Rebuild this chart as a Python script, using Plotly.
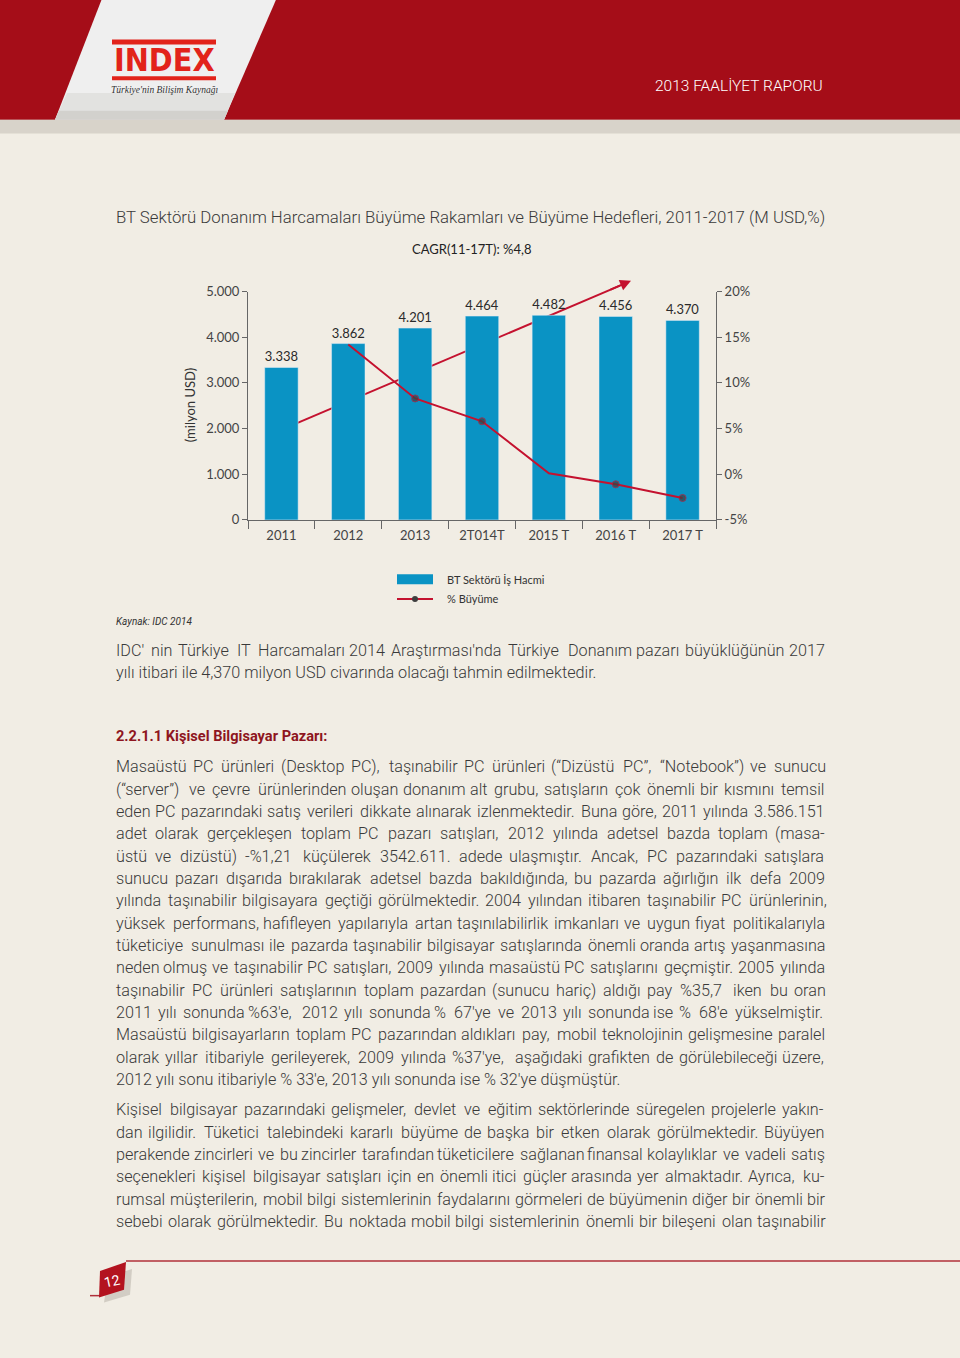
import plotly.graph_objects as go

# ---- data ----
years = ["2011", "2012", "2013", "2T014T", "2015 T", "2016 T", "2017 T"]
volume = [3338, 3862, 4201, 4464, 4482, 4456, 4370]          # milyon USD
growth_years = ["2012", "2013", "2T014T", "2015 T", "2016 T", "2017 T"]
growth = [14.2, 8.3, 5.8, 0.1, -1.1, -2.6]                    # %
growth_marker = [0, 7, 7, 0, 7, 7]

left_ticks = [0, 1000, 2000, 3000, 4000, 5000]
right_ticks = [-5, 0, 5, 10, 15, 20]
right_labels = ["-5%", "0%", "5%", "10%", "15%", "20%"]

title = "BT Sektörü Donanım Harcamaları Büyüme Rakamları ve Büyüme Hedefleri, 2011-2017 (M USD,%)"
cagr = "CAGR(11-17T): %4,8"

intro_lines = [
    "IDC' nin Türkiye IT Harcamaları 2014 Araştırması'nda Türkiye Donanım pazarı büyüklüğünün 2017",
    "yılı itibari ile 4,370 milyon USD civarında olacağı tahmin edilmektedir.",
]
heading = "2.2.1.1 Kişisel Bilgisayar Pazarı:"
para1 = [
    "Masaüstü PC ürünleri (Desktop PC), taşınabilir PC ürünleri (“Dizüstü PC”, “Notebook”) ve sunucu",
    "(“server”) ve çevre ürünlerinden oluşan donanım alt grubu, satışların çok önemli bir kısmını temsil",
    "eden PC pazarındaki satış verileri dikkate alınarak izlenmektedir. Buna göre, 2011 yılında 3.586.151",
    "adet olarak gerçekleşen toplam PC pazarı satışları, 2012 yılında adetsel bazda toplam  (masa-",
    "üstü ve dizüstü) -%1,21 küçülerek 3542.611. adede ulaşmıştır. Ancak, PC pazarındaki satışlara",
    "sunucu pazarı dışarıda bırakılarak adetsel bazda bakıldığında, bu pazarda ağırlığın ilk defa 2009",
    "yılında taşınabilir bilgisayara geçtiği görülmektedir. 2004 yılından itibaren taşınabilir PC ürünlerinin,",
    "yüksek performans, hafifleyen yapılarıyla artan taşınılabilirlik imkanları ve uygun fiyat politikalarıyla",
    "tüketiciye sunulması ile pazarda taşınabilir bilgisayar satışlarında önemli oranda artış yaşanmasına",
    "neden olmuş ve taşınabilir PC satışları, 2009 yılında masaüstü PC satışlarını geçmiştir. 2005 yılında",
    "taşınabilir PC ürünleri satışlarının toplam pazardan (sunucu hariç) aldığı pay %35,7 iken bu oran",
    "2011 yılı sonunda %63'e, 2012 yılı sonunda % 67'ye ve 2013 yılı sonunda ise % 68'e yükselmiştir.",
    "Masaüstü bilgisayarların toplam PC pazarından aldıkları pay, mobil teknolojinin gelişmesine paralel",
    "olarak yıllar itibariyle gerileyerek, 2009 yılında %37'ye, aşağıdaki grafikten de görülebileceği üzere,",
    "2012 yılı sonu itibariyle % 33'e, 2013 yılı sonunda ise % 32'ye düşmüştür.",
]
para2 = [
    "Kişisel bilgisayar pazarındaki gelişmeler, devlet ve eğitim sektörlerinde süregelen projelerle yakın-",
    "dan ilgilidir.  Tüketici talebindeki kararlı büyüme de başka bir etken olarak görülmektedir. Büyüyen",
    "perakende zincirleri ve bu zincirler tarafından tüketicilere sağlanan finansal kolaylıklar ve vadeli satış",
    "seçenekleri kişisel bilgisayar satışları için en önemli itici güçler arasında yer almaktadır. Ayrıca, ku-",
    "rumsal müşterilerin, mobil bilgi sistemlerinin faydalarını görmeleri de büyümenin diğer bir önemli bir",
    "sebebi olarak görülmektedir. Bu noktada mobil bilgi sistemlerinin önemli bir bileşeni olan taşınabilir",
]

W, H = 960, 1358
BG = "#f1ede4"
RED = "#a50d18"
LINE_RED = "#c4122f"
BLUE = "#0a93c4"
TXT = "#3a3a3a"
BODY = "Roboto, Liberation Sans, sans-serif"
CHART = "Lato, sans-serif"

TEXT_L, TEXT_R = 114, 823
BODY_SIZE = 16.2


def px(x):
    return x / W


def py(y):
    return 1 - y / H


# rough per-character widths (em) for the body font, used to justify lines
def char_em(c):
    if c == " ":
        return 0.25
    if c in "iıljİI.,:;'!|’‘":
        return 0.23
    if c in "frtJ()[]-“”\"":
        return 0.33
    if c in "mM%":
        return 0.85
    if c in "wW":
        return 0.75
    if c.isdigit():
        return 0.56
    if c.isupper():
        return 0.64
    return 0.52


def text_em(s):
    return sum(char_em(c) for c in s)


# calibration: first line rendered 633px wide at 15.3px
CAL = 633 / (15.3 * text_em(para1[0]))

fig = go.Figure()

fig.add_trace(go.Bar(
    x=years, y=volume, name="BT Sektörü İş Hacmi",
    marker_color=BLUE, width=0.5,
    texttemplate="%{y:,}", textposition="outside", cliponaxis=False,
    textfont=dict(family=CHART, size=13, color="#2a2a2a"),
))
fig.add_trace(go.Scatter(
    x=growth_years, y=growth, yaxis="y2", name="% Büyüme",
    mode="lines+markers",
    line=dict(color=LINE_RED, width=2),
    marker=dict(color="#3e3e3e", size=growth_marker),
    cliponaxis=False,
))

shapes = []
ann = []


def label(text, x, y, size, color=TXT, family=BODY, anchor="left", **kw):
    ann.append(dict(text=text, x=px(x), y=py(y), xref="paper", yref="paper",
                    showarrow=False, xanchor=anchor, yanchor="middle",
                    font=dict(family=family, size=size, color=color, **kw)))


def poly(points, color, layer="above"):
    path = "M " + " L ".join(f"{px(x)},{py(y)}" for x, y in points) + " Z"
    shapes.append(dict(type="path", xref="paper", yref="paper", path=path,
                       fillcolor=color, line_width=0, layer=layer))


# header
shapes.append(dict(type="rect", xref="paper", yref="paper", x0=0, x1=1,
                   y0=py(113), y1=1.02, fillcolor=RED, line_width=0, layer="below"))
shapes.append(dict(type="rect", xref="paper", yref="paper", x0=0, x1=1,
                   y0=py(127), y1=py(113), fillcolor="rgba(195,190,180,0.55)",
                   line_width=0, layer="below"))
poly([(106, -20), (281, -20), (224, 113), (55, 113)], "#efefef", "below")
poly([(67, 86), (235, 86), (224, 113), (55, 113)], "#e2e2e0", "below")
poly([(59, 104), (228, 104), (224, 113), (55, 113)], "#d2d1cd", "below")
for y0, y1 in [(32, 37), (69, 73)]:
    shapes.append(dict(type="rect", xref="paper", yref="paper", x0=px(112), x1=px(216),
                       y0=py(y1), y1=py(y0), fillcolor="#e2231a", line_width=0))
label("<b>INDEX</b>", 164, 53, 32, "#e2231a", "DejaVu Sans Condensed, sans-serif", "center")
label("<i>Türkiye'nin Bilişim Kaynağı</i>", 164, 83, 9.5, "#333333",
      "Liberation Serif, serif", "center")
label("2013 FAALİYET RAPORU", 825, 79, 15.5, "white", BODY, "right", weight=300)

# chart titles
label(title, TEXT_L, 211, 16.8, weight=300)
label(cagr, 472, 244, 13, "#222222", CHART, "center")
ann.append(dict(text="(milyon USD)", x=px(190), y=py(402), xref="paper", yref="paper",
                showarrow=False, textangle=-90, xanchor="center", yanchor="middle",
                font=dict(family=CHART, size=13, color="#333333")))

# CAGR arrow (line behind bars, head on top)
shapes.append(dict(type="line", xref="paper", yref="paper", x0=px(297), y0=py(420),
                   x1=px(620), y1=py(281), line=dict(color=LINE_RED, width=2), layer="below"))
ann.append(dict(x=px(631), y=py(276), xref="paper", yref="paper", ax=-22, ay=9.5,
                text="", showarrow=True, arrowhead=2, arrowsize=1.1, arrowwidth=2,
                arrowcolor=LINE_RED, standoff=0))

# manual legend
shapes.append(dict(type="rect", xref="paper", yref="paper", x0=px(397), x1=px(433),
                   y0=py(583), y1=py(573), fillcolor=BLUE, line_width=0))
shapes.append(dict(type="line", xref="paper", yref="paper", x0=px(397), x1=px(433),
                   y0=py(598), y1=py(598), line=dict(color=LINE_RED, width=2)))
shapes.append(dict(type="circle", xref="paper", yref="paper", x0=px(412), x1=px(418),
                   y0=py(601), y1=py(595), fillcolor="#3e3e3e", line_width=0))
label("BT Sektörü İş Hacmi", 445, 578, 11, "#333333", CHART)
label("% Büyüme", 445, 598, 11, "#333333", CHART)
label("<i>Kaynak: IDC 2014</i>", TEXT_L, 621, 10, "#333333", BODY)


# body text, justified word by word
def add_line(line, y, justify=True):
    words = line.split()
    if not justify or len(words) < 2:
        label(line, TEXT_L, y, BODY_SIZE, weight=300)
        return
    widths = [BODY_SIZE * CAL * text_em(w) for w in words]
    gap = (TEXT_R - TEXT_L - sum(widths)) / (len(words) - 1)
    x = TEXT_L
    for w, wd in zip(words, widths):
        label(w, x, y, BODY_SIZE, weight=300)
        x += wd + gap


def add_par(lines, y_start, last_justified=False, step=22.6):
    for i, line in enumerate(lines):
        last = i == len(lines) - 1
        add_line(line, y_start + i * step, justify=(not last) or last_justified)


add_par(intro_lines, 650)
label("<b>" + heading + "</b>", TEXT_L, 737, 14.6, "#8e1520")
add_par(para1, 768)
add_par(para2, 1115, last_justified=True)

# footer
shapes.append(dict(type="line", xref="paper", yref="paper", x0=px(126), x1=1,
                   y0=py(1268), y1=py(1268), line=dict(color="#b0303a", width=1.5)))
shapes.append(dict(type="line", xref="paper", yref="paper", x0=px(90), x1=px(100),
                   y0=py(1303), y1=py(1303), line=dict(color="#b0303a", width=1.5)))
poly([(104, 1310), (130, 1302), (132, 1276), (108, 1284)], "rgba(120,110,100,0.25)")
poly([(100, 1278), (126, 1269), (124, 1297), (99, 1305)], "#b3131f")
ann.append(dict(text="12", x=px(112), y=py(1288), xref="paper", yref="paper",
                showarrow=False, xanchor="center", yanchor="middle", textangle=-12,
                font=dict(family=BODY, size=14, color="white")))

axis_font = dict(family=CHART, size=13, color="#444444")
fig.update_layout(
    width=W, height=H, margin=dict(l=0, r=0, t=0, b=0),
    paper_bgcolor=BG, plot_bgcolor="rgba(0,0,0,0)",
    separators=",.", showlegend=False, bargap=0.5,
    xaxis=dict(domain=[px(248), px(716)], type="category", showline=True, linecolor="#666666",
               ticks="outside", tickson="boundaries", ticklen=8, tickcolor="#666666",
               tickfont=axis_font, showgrid=False, zeroline=False, ticklabelstandoff=4),
    yaxis=dict(domain=[py(518), py(287)], range=[0, 5000], tickvals=left_ticks,
               tickformat=",d", showline=True, linecolor="#666666", ticks="outside",
               ticklen=5, tickcolor="#666666", tickfont=axis_font, showgrid=False,
               zeroline=False),
    yaxis2=dict(overlaying="y", side="right", range=[-5, 20], tickvals=right_ticks,
                ticktext=right_labels, showline=True, linecolor="#666666", ticks="outside",
                ticklen=5, tickcolor="#666666", tickfont=axis_font, showgrid=False,
                zeroline=False, anchor="x"),
    shapes=shapes, annotations=ann,
)

fig.write_html("out.html", config={"displayModeBar": False},
               post_script="document.documentElement.style.margin='0';"
                           "document.body.style.margin='0';"
                           "document.body.style.padding='0';"
                           "document.body.style.background='" + BG + "';"
                           "window.scrollTo(0, 0);")
